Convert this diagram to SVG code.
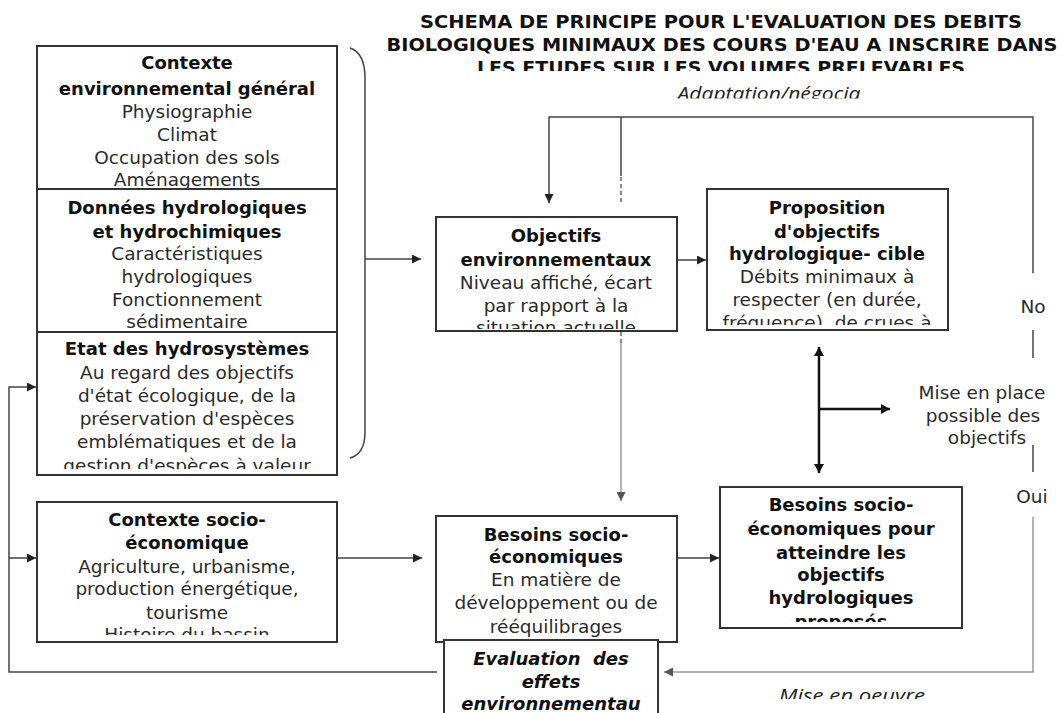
<svg xmlns="http://www.w3.org/2000/svg" width="1063" height="713" viewBox="0 0 1063 713">
<style>
  .box { fill: #fff; stroke: #333; stroke-width: 2; }
  .t { font-family: "DejaVu Sans", Verdana, sans-serif; font-size: 18.5px; fill: #2a2a2a; text-anchor: middle; }
  .b { font-family: "DejaVu Sans", Verdana, sans-serif; font-size: 18px; font-weight: bold; fill: #111; text-anchor: middle; }
  .bi { font-family: "DejaVu Sans", Verdana, sans-serif; font-size: 18px; font-weight: bold; font-style: italic; fill: #111; text-anchor: middle; }
  .it { font-family: "Open Sans", "DejaVu Sans", sans-serif; font-size: 18px; font-style: italic; fill: #222; text-anchor: middle; }
  .title { font-family: "DejaVu Sans", Verdana, sans-serif; font-size: 17px; font-weight: bold; fill: #111; text-anchor: middle; }
  .c { fill: none; stroke: #444; stroke-width: 1.5; }
  .cg { fill: none; stroke: #999; stroke-width: 1.5; }
  .thick { fill: none; stroke: #111; stroke-width: 2.5; }
  .dash { fill: none; stroke: #666; stroke-width: 1.5; stroke-dasharray: 4 3; }
</style>
<defs>
  <marker id="ah" markerUnits="userSpaceOnUse" markerWidth="10" markerHeight="9" refX="9" refY="4.5" orient="auto">
    <path d="M0,0 L9,4.5 L0,9 z" fill="#222"/>
  </marker>
  <marker id="ahg" markerUnits="userSpaceOnUse" markerWidth="10" markerHeight="9" refX="9" refY="4.5" orient="auto">
    <path d="M0,0 L9,4.5 L0,9 z" fill="#555"/>
  </marker>
  <marker id="ahs" markerUnits="userSpaceOnUse" markerWidth="10" markerHeight="10" refX="9" refY="5" orient="auto-start-reverse">
    <path d="M0,0 L9,5 L0,10 z" fill="#111"/>
  </marker>
  <clipPath id="cTitle"><rect x="0" y="0" width="1063" height="71"/></clipPath>
  <clipPath id="cAdapt"><rect x="600" y="75" width="260" height="23.5"/></clipPath>
  <clipPath id="cMise"><rect x="700" y="680" width="300" height="19"/></clipPath>
  <clipPath id="c1"><rect x="38" y="47" width="298" height="141"/></clipPath>
  <clipPath id="c2"><rect x="38" y="190" width="298" height="139"/></clipPath>
  <clipPath id="c3"><rect x="38" y="333" width="298" height="136"/></clipPath>
  <clipPath id="c4"><rect x="38" y="503" width="298" height="132"/></clipPath>
  <clipPath id="c5"><rect x="437" y="218" width="239" height="111"/></clipPath>
  <clipPath id="c6"><rect x="708" y="190" width="239" height="135"/></clipPath>
  <clipPath id="c7"><rect x="721" y="488" width="240" height="134"/></clipPath>
</defs>

<rect x="0" y="0" width="1063" height="713" fill="#fff"/>

<g id="title" clip-path="url(#cTitle)">
  <text class="title" x="721" y="28" textLength="602" lengthAdjust="spacingAndGlyphs">SCHEMA DE PRINCIPE POUR L'EVALUATION DES DEBITS</text>
  <text class="title" x="722" y="51" textLength="671" lengthAdjust="spacingAndGlyphs">BIOLOGIQUES MINIMAUX DES COURS D'EAU A INSCRIRE DANS</text>
  <text class="title" x="721" y="74" textLength="488" lengthAdjust="spacingAndGlyphs">LES ETUDES SUR LES VOLUMES PRELEVABLES</text>
</g>

<g id="connectors">
  <!-- brace -->
  <path class="c" d="M350,48 Q365,53 365,78 L365,432 Q365,454 350,458"/>
  <line class="c" x1="365" y1="259" x2="421" y2="259" marker-end="url(#ah)"/>
  <!-- left feedback loop -->
  <path class="c" d="M437,672 L9,672 L9,387 L36,387" marker-end="url(#ah)"/>
  <line class="c" x1="9" y1="558" x2="36" y2="558" marker-end="url(#ah)"/>
  <!-- contexte socio -> besoins socio -->
  <line class="c" x1="337" y1="558" x2="422" y2="558" marker-end="url(#ah)"/>
  <!-- objectifs -> proposition -->
  <line class="c" x1="677" y1="260" x2="706" y2="260" marker-end="url(#ah)"/>
  <!-- besoins socio -> besoins pour -->
  <line class="c" x1="677" y1="558" x2="719" y2="558" marker-end="url(#ah)"/>
  <!-- top adaptation loop -->
  <path class="c" d="M1033,273 L1033,117 L549,117 L549,203" marker-end="url(#ah)"/>
  <line class="c" x1="621" y1="117" x2="621" y2="176"/>
  <line class="dash" x1="621" y1="177" x2="621" y2="204"/>
  <line class="dash" x1="621" y1="332" x2="621" y2="343"/>
  <line class="cg" x1="621" y1="343" x2="621" y2="501" marker-end="url(#ahg)"/>
  <!-- right decision line -->
  <line class="c" x1="1033" y1="330" x2="1033" y2="358"/>
  <line class="c" x1="1033" y1="445" x2="1033" y2="472"/>
  <path class="cg" d="M1033,517 L1033,672 L664,672" marker-end="url(#ahg)"/>
  <!-- thick double arrow -->
  <line class="thick" x1="819" y1="347" x2="819" y2="473" marker-start="url(#ahs)" marker-end="url(#ahs)"/>
  <line class="thick" x1="820" y1="409" x2="890" y2="409" marker-end="url(#ahs)"/>
</g>

<g id="labels">
  <text class="it" x="769" y="100" clip-path="url(#cAdapt)" textLength="183" lengthAdjust="spacingAndGlyphs">Adaptation/négocia</text>
  <text class="t" x="1033" y="313">No</text>
  <text class="t" x="1032" y="503">Oui</text>
  <text class="t" x="982" y="399">Mise en place</text>
  <text class="t" x="983" y="422">possible des</text>
  <text class="t" x="987" y="444">objectifs</text>
  <text class="it" x="852" y="702" clip-path="url(#cMise)" textLength="146" lengthAdjust="spacingAndGlyphs">Mise en oeuvre</text>
</g>

<g id="contexte-env">
  <rect class="box" x="37" y="46" width="300" height="143"/>
  <g clip-path="url(#c1)">
    <text class="b" x="187" y="69">Contexte</text>
    <text class="b" x="187" y="95">environnemental général</text>
    <text class="t" x="187" y="118">Physiographie</text>
    <text class="t" x="187" y="141">Climat</text>
    <text class="t" x="187" y="164">Occupation des sols</text>
    <text class="t" x="187" y="186">Aménagements</text>
  </g>
</g>

<g id="donnees-hydro">
  <rect class="box" x="37" y="189" width="300" height="143"/>
  <g clip-path="url(#c2)">
    <text class="b" x="187" y="214">Données hydrologiques</text>
    <text class="b" x="187" y="238">et hydrochimiques</text>
    <text class="t" x="187" y="260">Caractéristiques</text>
    <text class="t" x="187" y="283">hydrologiques</text>
    <text class="t" x="187" y="306">Fonctionnement</text>
    <text class="t" x="187" y="328">sédimentaire</text>
  </g>
</g>

<g id="etat-hydro">
  <rect class="box" x="37" y="332" width="300" height="143"/>
  <g clip-path="url(#c3)">
    <text class="b" x="187" y="355">Etat des hydrosystèmes</text>
    <text class="t" x="187" y="379">Au regard des objectifs</text>
    <text class="t" x="187" y="402">d'état écologique, de la</text>
    <text class="t" x="187" y="425">préservation d'espèces</text>
    <text class="t" x="187" y="448">emblématiques et de la</text>
    <text class="t" x="187" y="472">gestion d'espèces à valeur</text>
  </g>
</g>

<g id="contexte-socio">
  <rect class="box" x="37" y="502" width="300" height="140"/>
  <g clip-path="url(#c4)">
    <text class="b" x="187" y="526">Contexte socio-</text>
    <text class="b" x="187" y="549">économique</text>
    <text class="t" x="187" y="573">Agriculture, urbanisme,</text>
    <text class="t" x="187" y="595">production énergétique,</text>
    <text class="t" x="187" y="619">tourisme</text>
    <text class="t" x="187" y="641">Histoire du bassin</text>
  </g>
</g>

<g id="objectifs-env">
  <rect class="box" x="436" y="217" width="241" height="114"/>
  <g clip-path="url(#c5)">
    <text class="b" x="556" y="242">Objectifs</text>
    <text class="b" x="556" y="266">environnementaux</text>
    <text class="t" x="556" y="289">Niveau affiché, écart</text>
    <text class="t" x="556" y="312">par rapport à la</text>
    <text class="t" x="556" y="334">situation actuelle</text>
  </g>
</g>

<g id="proposition">
  <rect class="box" x="707" y="189" width="241" height="141"/>
  <g clip-path="url(#c6)">
    <text class="b" x="827" y="214">Proposition</text>
    <text class="b" x="827" y="238">d'objectifs</text>
    <text class="b" x="827" y="260">hydrologique- cible</text>
    <text class="t" x="827" y="283">Débits minimaux à</text>
    <text class="t" x="827" y="306">respecter (en durée,</text>
    <text class="t" x="827" y="329">fréquence), de crues à</text>
  </g>
</g>

<g id="besoins-socio">
  <rect class="box" x="436" y="516" width="241" height="126"/>
  <text class="b" x="556" y="541">Besoins socio-</text>
  <text class="b" x="556" y="563">économiques</text>
  <text class="t" x="556" y="586">En matière de</text>
  <text class="t" x="556" y="609">développement ou de</text>
  <text class="t" x="556" y="633">rééquilibrages</text>
</g>

<g id="besoins-pour">
  <rect class="box" x="720" y="487" width="242" height="141"/>
  <g clip-path="url(#c7)">
    <text class="b" x="841" y="511">Besoins socio-</text>
    <text class="b" x="841" y="535">économiques pour</text>
    <text class="b" x="841" y="559">atteindre les</text>
    <text class="b" x="841" y="581">objectifs</text>
    <text class="b" x="841" y="604">hydrologiques</text>
    <text class="b" x="841" y="628">proposés</text>
  </g>
</g>

<g id="evaluation">
  <rect class="box" x="444" y="640" width="214" height="90"/>
  <text class="bi" x="551" y="665" xml:space="preserve">Evaluation  des</text>
  <text class="bi" x="551" y="688">effets</text>
  <text class="bi" x="551" y="710">environnementau</text>
</g>
</svg>
